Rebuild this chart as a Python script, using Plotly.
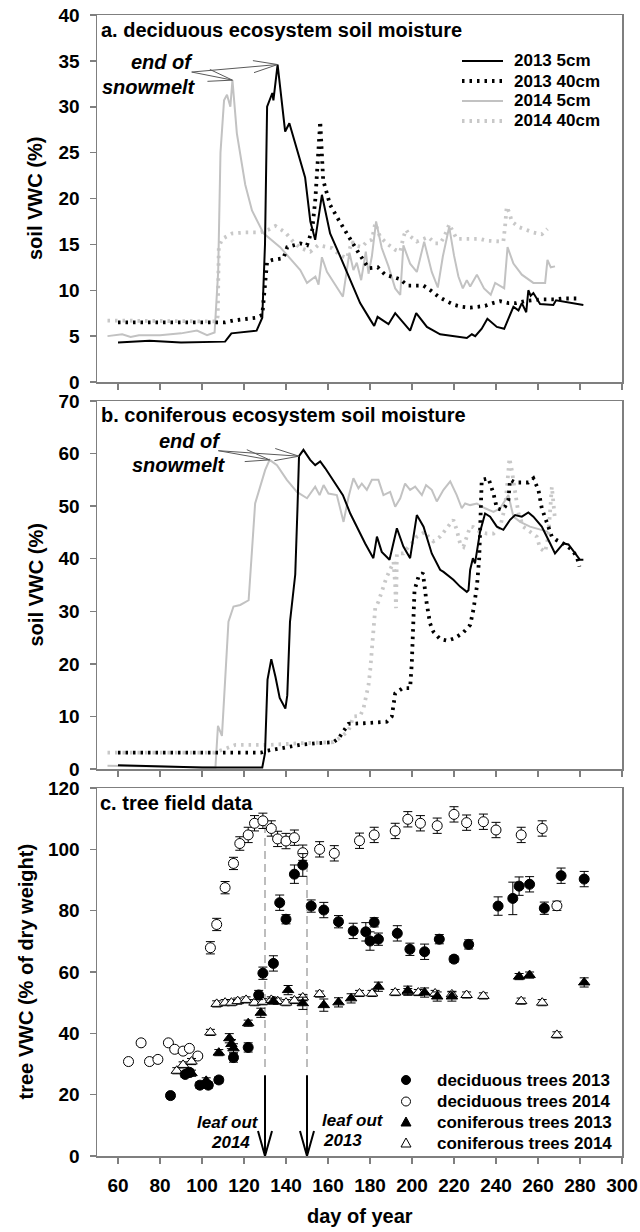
import numpy as np
import plotly.graph_objects as go

# ---------------- data ----------------
# panel a: deciduous ecosystem soil moisture (VWC %)
a13_5_day = [60, 75, 90, 104, 111, 113, 114, 126, 128.7, 130, 131, 133.5, 134, 136, 139.6, 141.6, 146.8, 149.1,
             151.6, 153.9, 157.1, 161.0, 165.8, 170.6, 175.3, 180.1, 182.0, 183.6, 188.8, 192.0, 199.1, 202.0,
             207.1, 213.4, 226.1, 228.5, 230.1, 233.2, 235.9, 240.4, 243.9, 248.3, 250.7, 252.3, 254.4, 255.4,
             256.5, 257.8, 261.0, 267.3, 268.6, 281.6]
a13_5_val = [4.3, 4.5, 4.3, 4.4, 4.4, 5.0, 5.3, 5.6, 7.0, 15.0, 30.0, 31.5, 30.7, 34.6, 27.3, 28.2, 24.2, 22.3,
             17.5, 15.5, 20.4, 16.2, 13.7, 11.1, 8.6, 6.8, 6.1, 7.1, 6.3, 7.5, 5.6, 7.5,
             6.0, 5.2, 4.8, 5.2, 5.0, 5.8, 6.9, 6.0, 5.8, 8.2, 7.8, 8.6, 7.6, 10.0,
             9.4, 9.7, 8.5, 8.4, 8.9, 8.4]

a13_40_day = [60, 111, 115, 125.5, 128.7, 131, 133.5, 138.8, 140.6, 146.8, 150, 152.5, 154, 156.3, 157.7, 161,
              165.5, 170, 174.5, 179.3, 183.7, 187.2, 194.4, 197.8, 205.5, 209.4, 212.6, 216.6, 220.2, 223.7,
              227.7, 231.3, 234.8, 238.5, 242, 245.9, 249.6, 253.4, 257, 261, 268.1, 272, 279.2]
a13_40_val = [6.5, 6.5, 6.7, 7.0, 7.3, 13.1, 13.3, 13.5, 14.7, 15.1, 14.9, 16.6, 20.0, 28.4, 22.0, 19.3,
              17.5, 15.7, 14.1, 12.4, 12.5, 11.7, 11.2, 10.5, 10.5, 9.9, 9.3, 8.8, 8.4, 8.2,
              8.1, 8.2, 8.3, 8.6, 8.8, 8.6, 8.6, 8.8, 8.9, 9.0, 9.0, 9.1, 9.1]

a14_5_day = [55, 62, 66, 70, 80, 90, 97.6, 102.4, 106, 107.7, 108.8, 110.5, 111.9, 113.5, 114.5, 116.6, 120.6,
             123.8, 129.3, 137.2, 146.8, 150, 154, 155.5, 157.1, 159.5, 162.6, 167.1, 170.2, 172.1, 173.7,
             175.8, 178, 179.3, 180.9, 182.9, 185.6, 188.8, 192, 194.4, 195.9, 199.1, 202.3, 205.8, 209.4,
             212.3, 214.7, 217.7, 220, 222.1, 224.2, 226.1, 227.7, 230.9, 234.3, 237.5, 239.6, 242.8, 243.9,
             245.5, 248.3, 252.3, 257.8, 263.4, 264.5, 266.1, 268.1]
a14_5_val = [5.0, 5.2, 4.9, 5.1, 5.1, 5.3, 5.6, 5.1, 5.4, 12.0, 25.0, 30.7, 31.3, 30.0, 32.9, 27.1, 21.5,
             18.7, 16.2, 14.7, 12.2, 10.8, 11.5, 10.6, 13.6, 12.0, 10.9, 9.3, 14.1, 12.2, 13.0,
             11.1, 14.2, 11.8, 13.7, 17.5, 14.6, 12.6, 10.2, 9.5, 14.9, 12.9, 12.0, 15.3, 12.0,
             10.3, 13.7, 16.9, 13.8, 11.5, 10.2, 11.1, 10.4, 11.7, 10.2, 9.5, 10.8, 10.4, 10.2,
             14.7, 12.9, 11.7, 10.8, 10.8, 13.3, 12.5, 12.6]

a14_40_day = [55, 107, 107.5, 108, 109.6, 114.5, 120.6, 127.8, 131.6, 135, 139.7, 143.4, 146.8, 151.6, 155.3,
              161.9, 165.8, 169, 170.2, 171.4, 172.9, 176.1, 178.5, 180.9, 182.5, 183.3, 184.8, 188, 192,
              194.4, 195.9, 197.2, 199.1, 202.3, 207.8, 211, 213.4, 215.3, 217.8, 219, 221.3, 224.5, 232.4,
              235.6, 239.6, 243.5, 244.3, 245.1, 246.4, 247.5, 250.7, 254.7, 257.8, 261.8, 264.5]
a14_40_val = [6.7, 6.6, 7.2, 14.7, 15.6, 16.2, 16.3, 16.3, 16.6, 17.0, 16.3, 15.3, 14.6, 14.2, 14.9,
              14.6, 13.8, 13.5, 14.4, 15.3, 14.9, 14.7, 15.3, 15.5, 17.3, 16.7, 15.8, 15.1, 14.4,
              14.2, 15.8, 16.6, 15.9, 15.3, 15.8, 15.1, 15.1, 15.8, 17.2, 16.6, 15.6, 15.6, 15.6,
              15.4, 15.3, 15.3, 16.9, 19.1, 18.4, 17.5, 16.9, 16.5, 16.3, 16.1, 16.7]

# panel b: coniferous ecosystem soil moisture (VWC %)
b13_5_day = [60, 80, 100, 128.7, 130, 131.2, 133, 135, 137, 139.7, 140.6, 141.9, 143.6, 144.4, 145.5, 146.2,
             148.3, 151.5, 153.9, 156.3, 158.7, 161.9, 165, 167.1, 170.6, 173.7, 177.7, 181.6, 183.3, 185.6,
             189.3, 192.8, 195.9, 199.1, 202.3, 205.5, 209.4, 213.4, 215, 219.7, 222.9, 226.1, 226.9, 227.7,
             229, 230, 232.4, 234.8, 237.2, 240.4, 243.5, 246.7, 249.1, 252.3, 255.4, 257.8, 261.8, 265.8,
             268.1, 272.1, 274.5, 277.7, 280, 281.6]
b13_5_val = [0.7, 0.5, 0.3, 0.3, 3.0, 17.0, 20.9, 17.5, 13.5, 11.5, 14.0, 28.0, 34.7, 37.0, 50.0, 59.5,
             60.7, 58.8, 57.8, 58.5, 57.2, 55.3, 53.4, 52.1, 48.6, 46.1, 42.9, 40.1, 44.2, 41.3,
             39.8, 45.8, 42.3, 40.1, 48.3, 46.1, 41.0, 37.9, 37.5, 36.0, 34.7, 33.7, 34.0, 37.9,
             40.1, 39.1, 45.1, 48.6, 48.0, 46.1, 45.5, 47.4, 48.3, 48.0, 48.8, 48.0, 46.1, 42.9,
             41.0, 42.9, 42.7, 41.0, 39.8, 39.8]

b13_40_day = [60, 128, 130, 137.3, 146.8, 154.7, 162.6, 165, 167.4, 169.8, 176.9, 184, 188, 190.4, 191.2, 192,
              195.6, 199.1, 199.9, 200.7, 201.2, 203.1, 205.2, 207, 208.6, 210.2, 213.4, 216.9, 220.5, 224.5,
              227.7, 229.2, 230.9, 232, 233.2, 236.4, 238.8, 240.4, 242.8, 244.3, 245.9, 246.7, 249.1, 252.3,
              255.4, 257.8, 260.2, 261.8, 263.4, 265, 266.6, 268.6, 272.9, 276.1, 278.5, 279.7]
b13_40_val = [3.1, 3.1, 3.4, 3.9, 4.6, 4.9, 5.1, 5.8, 7.2, 8.6, 8.7, 9.0, 9.0, 10.0, 12.8, 14.4,
              15.4, 15.4, 20.1, 27.1, 34.0, 36.6, 37.3, 31.5, 27.7, 26.1, 24.7, 24.4, 24.9, 26.0,
              27.4, 30.2, 34.7, 40.0, 55.0, 55.3, 52.4, 49.6, 49.3, 49.9, 51.2, 55.0, 54.5, 54.5,
              54.5, 55.3, 53.1, 49.6, 47.7, 46.1, 44.2, 43.6, 42.7, 41.7, 40.4, 38.5]

b14_5_day = [55, 80, 100, 106.4, 107.6, 109.5, 112.6, 115, 118.2, 122.2, 125.3, 130.1, 132.2, 135.7, 140.4,
             145.2, 150, 153.9, 156, 157.9, 160.2, 164.2, 167.4, 169.8, 172.1, 174.5, 176.1, 178.5, 180.9,
             184, 186.4, 189.6, 192, 194.4, 196.7, 199.1, 201.5, 204.7, 206.7, 209.4, 211.8, 215, 218.2,
             221.3, 223.7, 225.3, 227.7, 230.9, 234.8, 238.8, 242, 245.9, 248.3, 251.5, 256.2, 261, 264.9]
b14_5_val = [0.6, 0.4, 0.3, 0.3, 8.2, 6.3, 28.0, 30.9, 31.2, 32.1, 50.5, 56.9, 58.8, 57.8, 55.0,
             52.7, 51.5, 53.7, 52.1, 54.0, 52.4, 52.1, 47.0, 51.8, 55.3, 53.4, 54.3, 53.1, 55.0,
             55.0, 52.1, 52.7, 49.9, 51.5, 54.3, 53.1, 53.7, 52.1, 54.0, 53.1, 50.9, 53.1, 54.7,
             52.1, 49.6, 50.5, 50.2, 50.5, 49.6, 48.9, 49.6, 52.1, 48.0, 47.0, 46.1, 45.5, 45.1]

b14_40_day = [55, 106, 116, 132.5, 146.8, 162.6, 166.6, 169.8, 172.1, 175.3, 176.9, 178.5, 179.3, 180.1, 180.6,
              181.4, 182, 182.5, 184, 185.3, 186.4, 188, 188.8, 191.2, 192, 192.4, 192.8, 195.9, 198.3, 199.9,
              202.3, 206.3, 207.8, 210.2, 213.4, 218.2, 219.7, 221.3, 222.9, 224.5, 226.1, 227.7, 229.2,
              232.4, 235.6, 238.8, 242, 244.3, 245.4, 246.4, 247.5, 249.1, 250.7, 253, 256.2, 259.4, 261,
              263.4, 264.9, 265.8, 266.6, 268.1]
b14_40_val = [3.1, 3.1, 4.6, 4.6, 4.9, 5.1, 6.2, 7.3, 10.0, 10.1, 11.5, 14.4, 16.0, 18.8, 21.7,
              24.5, 27.4, 30.6, 31.8, 33.4, 35.0, 36.6, 37.2, 39.4, 35.0, 30.6, 41.0, 41.0, 42.3, 42.9,
              44.2, 45.1, 44.2, 43.3, 44.2, 46.7, 47.4, 45.5, 42.9, 42.3, 44.2, 46.1, 46.0,
              45.1, 44.8, 44.8, 46.1, 49.9, 54.3, 59.1, 56.9, 52.4, 48.6, 46.1, 45.1, 44.2, 42.0,
              41.3, 44.2, 49.9, 53.7, 47.4]

# end of snowmelt (day of year) [2013, 2014]
snow_end_a = [136, 114.5]
snow_end_b = [146.2, 132.2]

# panel c: tree field data (VWC % of dry weight), mean and error
dec13_day = [85, 92, 94, 99, 103, 108, 115, 122, 127, 129, 134, 137, 140, 144, 148, 152, 158, 165, 172, 178,
             180, 182, 184, 193, 199, 206, 213, 220, 227, 241, 248, 251, 256, 263, 271, 282]
dec13_val = [19.7, 26.6, 27.3, 23.1, 23.1, 24.8, 32.1, 35.4, 52.5, 59.6, 62.8, 82.6, 77.2, 91.9, 94.9, 81.5,
             80.2, 76.4, 73.4, 73.1, 70.1, 76.2, 70.7, 72.6, 67.4, 66.6, 70.7, 64.2, 69.0, 81.5, 84.0, 88.0,
             88.6, 80.8, 91.4, 90.3]
dec13_err = [1.0, 1.0, 1.0, 1.0, 1.0, 1.0, 1.5, 1.5, 1.5, 2.0, 2.5, 2.5, 1.5, 3.0, 3.7, 2.0, 2.5, 2.0, 2.5,
             3.0, 3.0, 1.5, 2.0, 2.5, 2.0, 2.5, 1.5, 1.0, 1.5, 3.0, 5.3, 3.0, 2.5, 2.0, 2.5, 2.5]

dec14_day = [65, 71, 75, 79, 84, 87, 91, 94, 98, 104, 107, 111, 115, 118, 122, 125, 129, 133, 136, 140, 144,
             148, 156, 163, 175, 182, 192, 198, 204, 212, 220, 226, 234, 240, 252, 262, 269]
dec14_val = [30.8, 36.9, 30.8, 31.5, 36.9, 34.8, 34.2, 35.1, 32.6, 67.9, 75.5, 87.5, 95.4, 101.9, 104.7,
             108.5, 109.3, 106.8, 103.4, 102.7, 103.8, 98.9, 100.0, 98.7, 102.8, 104.7, 106.0, 109.8, 108.5,
             107.7, 111.4, 108.7, 109.0, 106.3, 104.7, 106.8, 81.6]
dec14_err = [0.8, 0.8, 0.8, 0.8, 0.8, 0.8, 0.8, 0.8, 0.8, 2.0, 2.0, 2.0, 2.0, 2.2, 2.5, 2.5, 2.5, 2.5, 2.5,
             2.5, 2.5, 2.5, 2.5, 2.5, 2.5, 2.5, 2.5, 2.5, 2.5, 2.5, 2.5, 2.5, 2.5, 2.5, 2.5, 2.5, 1.5]

con13_day = [93, 95, 102, 108, 113, 114, 115, 122, 128, 134, 141, 148, 158, 165, 171, 184, 198, 206, 212, 219,
             251, 256, 282]
con13_val = [26.7, 27.0, 24.5, 33.7, 38.4, 36.5, 35.1, 43.3, 46.7, 50.5, 54.1, 49.8, 49.2, 50.1, 51.4, 55.2,
             53.9, 53.3, 52.0, 52.0, 58.5, 59.0, 56.6]
con13_err = [1.0, 1.0, 1.0, 1.0, 1.5, 1.5, 1.5, 1.0, 1.5, 1.0, 1.5, 2.0, 2.0, 1.5, 1.5, 1.5, 1.5, 1.5, 1.5,
             1.5, 1.0, 1.0, 1.5]

con14_day = [88, 91, 95, 104, 107, 111, 114, 117, 121, 125, 129, 133, 136, 140, 144, 148, 156, 175, 181, 192,
             198, 203, 211, 219, 226, 234, 252, 262, 269]
con14_val = [27.8, 29.7, 30.8, 40.3, 49.6, 50.0, 50.0, 50.5, 50.9, 50.0, 50.3, 50.9, 50.5, 50.0, 50.7, 51.7,
             52.8, 53.0, 53.0, 53.3, 53.6, 53.3, 53.0, 52.7, 52.5, 52.2, 50.5, 50.0, 39.5]
con14_err = [1.0] * len(con14_day)

# leaf out (day of year) [2014, 2013]
leafout_day = [130, 150]
leafout_year = ['2014', '2013']
leafout_line_top = [108.5, 96.5]

x_ticks = list(range(60, 301, 20))

# ---------------- layout helpers ----------------
W, H = 640, 1232
ML, MR, MT, MB = 97, 18, 15, 76
PW = W - ML - MR
PH = H - MT - MB
XR = [50, 300]
PXD = PW / (XR[1] - XR[0])


def pxx(px):
    return (px - ML) / PW


def pxy(py):
    return (H - MB - py) / PH


PANEL = {'a': (15, 382, 40), 'b': (401, 769, 70), 'c': (788, 1156, 120)}


def data_to_px(panel, d, v):
    top, bot, ymax = PANEL[panel]
    return ML + (d - XR[0]) * PXD, bot - v * (bot - top) / ymax


BLACK = '#000000'
GRAY = '#c2c2c2'
AXC = '#7f7f7f'
FONT = 'Liberation Sans'
DOT = '2.5px,5px'

fig = go.Figure()


def add_line(x, y, color, dash, width, xa, ya):
    fig.add_trace(go.Scatter(x=x, y=y, mode='lines', showlegend=False, hoverinfo='skip',
                             line=dict(color=color, dash=dash, width=width), xaxis=xa, yaxis=ya))


series_a = [
    ('2013 5cm', a13_5_day, a13_5_val, BLACK, 'solid', 2.0),
    ('2013 40cm', a13_40_day, a13_40_val, BLACK, DOT, 3.8),
    ('2014 5cm', a14_5_day, a14_5_val, GRAY, 'solid', 2.0),
    ('2014 40cm', a14_40_day, a14_40_val, '#c8c8c8', DOT, 3.8),
]
series_b = [
    ('2013 5cm', b13_5_day, b13_5_val, BLACK, 'solid', 2.0),
    ('2013 40cm', b13_40_day, b13_40_val, BLACK, DOT, 3.8),
    ('2014 5cm', b14_5_day, b14_5_val, GRAY, 'solid', 2.0),
    ('2014 40cm', b14_40_day, b14_40_val, '#c8c8c8', DOT, 3.8),
]
for s in [series_a[3], series_a[2], series_a[1], series_a[0]]:
    add_line(s[1], s[2], s[3], s[4], s[5], 'x', 'y')
for s in [series_b[3], series_b[2], series_b[1], series_b[0]]:
    add_line(s[1], s[2], s[3], s[4], s[5], 'x2', 'y2')


def add_pts(x, y, e, symbol, fill, name):
    fig.add_trace(go.Scatter(x=x, y=y, mode='markers', name=name, showlegend=False, xaxis='x3', yaxis='y3',
                             marker=dict(symbol=symbol, size=10, color=fill, line=dict(color=BLACK, width=1)),
                             error_y=dict(type='data', array=e, color=BLACK, thickness=1, width=4.5)))


series_c = [
    ('deciduous trees 2013', 'circle', BLACK),
    ('deciduous trees 2014', 'circle', 'white'),
    ('coniferous trees 2013', 'triangle-up', BLACK),
    ('coniferous trees 2014', 'triangle-up', 'white'),
]

shapes = []
annotations = []

# dashed leaf-out lines (drawn under markers)
for d, top in zip(leafout_day, leafout_line_top):
    shapes.append(dict(type='line', xref='x3', yref='y3', x0=d, x1=d, y0=29, y1=top, layer='below',
                       line=dict(color='#bdbdbd', width=2, dash='8px,5px')))

add_pts(dec14_day, dec14_val, dec14_err, 'circle', 'white', series_c[1][0])
add_pts(con14_day, con14_val, con14_err, 'triangle-up', 'white', series_c[3][0])
add_pts(con13_day, con13_val, con13_err, 'triangle-up', BLACK, series_c[2][0])
add_pts(dec13_day, dec13_val, dec13_err, 'circle', BLACK, series_c[0][0])

# axes
tickfont = dict(family=FONT, size=19, color='black', weight='bold')
common_x = dict(range=XR, tickvals=x_ticks, ticks='outside', ticklen=6, tickwidth=1.5, tickcolor=AXC,
                showline=True, linecolor=AXC, linewidth=1.5, mirror=True, showgrid=False, zeroline=False,
                tickfont=tickfont, ticklabelstandoff=6, automargin=False)
common_y = dict(ticks='outside', ticklen=6, tickwidth=1.5, tickcolor=AXC, showline=True, linecolor=AXC,
                linewidth=1.5, mirror=True, showgrid=False, zeroline=False, tickfont=tickfont,
                ticklabelstandoff=6, automargin=False)

fig.update_layout(
    template='none',
    width=W, height=H, margin=dict(l=ML, r=MR, t=MT, b=MB, autoexpand=False),
    paper_bgcolor='white', plot_bgcolor='white',
    font=dict(family=FONT, color='black', weight='bold'), showlegend=False,
    xaxis=dict(common_x, anchor='y', domain=[0, 1], showticklabels=False),
    yaxis=dict(common_y, anchor='x', domain=[pxy(382), pxy(15)], range=[0, 40], dtick=5),
    xaxis2=dict(common_x, anchor='y2', domain=[0, 1], showticklabels=False),
    yaxis2=dict(common_y, anchor='x2', domain=[pxy(769), pxy(401)], range=[0, 70], dtick=10),
    xaxis3=dict(common_x, anchor='y3', domain=[0, 1]),
    yaxis3=dict(common_y, anchor='x3', domain=[pxy(1156), pxy(788)], range=[0, 120], dtick=20),
)


def ptext(text, px, py, size, xanchor='left', italic=False, angle=0):
    annotations.append(dict(text=text, xref='paper', yref='paper', x=pxx(px), y=pxy(py), xanchor=xanchor,
                            yanchor='middle', showarrow=False, textangle=angle, borderpad=0,
                            font=dict(family=FONT, size=size, color='black', weight='bold',
                                      style='italic' if italic else 'normal')))


# panel titles and axis titles
ptext('a. deciduous ecosystem soil moisture', 100, 29.5, 20)
ptext('b. coniferous ecosystem soil moisture', 100, 415, 20)
ptext('c. tree field data', 99, 803, 20)
ptext('soil VWC (%)', 35.5, (15 + 382) / 2, 20, xanchor='center', angle=-90)
ptext('soil VWC (%)', 35.5, (401 + 769) / 2, 20, xanchor='center', angle=-90)
ptext('tree VWC (% of dry weight)', 25.5, (788 + 1156) / 2, 20, xanchor='center', angle=-90)
ptext('day of year', 360, 1216, 20, xanchor='center')

# "end of snowmelt" notes
ptext('end of', 193.5, 62, 20, xanchor='right', italic=True)
ptext('snowmelt', 197, 87, 20, xanchor='right', italic=True)
ptext('end of', 222, 441, 20, xanchor='right', italic=True)
ptext('snowmelt', 227, 465, 20, xanchor='right', italic=True)


def open_arrow(panel, xref, yref, day, val, tail_px, head_len=25, head_ang=14, color='#5a5a5a', width=1):
    tx, ty = data_to_px(panel, day, val)
    dx, dy = tail_px[0] - tx, -(tail_px[1] - ty)
    ang = np.arctan2(dy, dx)
    pts = []
    for s in (-1, 1):
        a = ang + s * np.radians(head_ang)
        pts.append((head_len * np.cos(a), head_len * np.sin(a)))
    path = (f'M0,0 L{dx:.1f},{dy:.1f} M{pts[0][0]:.1f},{pts[0][1]:.1f} L0,0 '
            f'L{pts[1][0]:.1f},{pts[1][1]:.1f}')
    shapes.append(dict(type='path', xref=xref, yref=yref, xsizemode='pixel', ysizemode='pixel', xanchor=day,
                       yanchor=val, path=path, line=dict(color=color, width=width)))


for d, sd, sv in zip(snow_end_a, [a13_5_day, a14_5_day], [a13_5_val, a14_5_val]):
    open_arrow('a', 'x', 'y', d, float(np.interp(d, sd, sv)), (191.7, 72))
for d, sd, sv in zip(snow_end_b, [b13_5_day, b14_5_day], [b13_5_val, b14_5_val]):
    open_arrow('b', 'x2', 'y2', d, float(np.interp(d, sd, sv)), (218.3, 450.7))

# leaf-out arrows
for d in leafout_day:
    _, y0 = data_to_px('c', d, 0)
    _, y1 = data_to_px('c', d, 26.3)
    L = y0 - y1
    shapes.append(dict(type='path', xref='x3', yref='y3', xsizemode='pixel', ysizemode='pixel', xanchor=d,
                       yanchor=0, path=f'M0,0 L0,{L:.1f} M-7,25 L0,0 L7,25',
                       line=dict(color='black', width=2)))
ptext('leaf out', 228, 1122.5, 17, xanchor='center', italic=True)
ptext(leafout_year[0], 230, 1142, 17, xanchor='center', italic=True)
ptext('leaf out', 321, 1120, 17, xanchor='left', italic=True)
ptext(leafout_year[1], 322, 1140.5, 17, xanchor='left', italic=True)

# legend, panel a
for i, s in enumerate(series_a):
    yy = 61 + 20 * i
    shapes.append(dict(type='line', xref='paper', yref='paper', x0=pxx(462), x1=pxx(503), y0=pxy(yy), y1=pxy(yy),
                       line=dict(color=s[3], width=s[5], dash=s[4])))
    ptext(s[0], 512.5, yy, 17)

# legend, panel c
for i, s in enumerate(series_c):
    yy = [1080, 1101.5, 1122, 1143][i]
    if s[1] == 'circle':
        shapes.append(dict(type='circle', xref='paper', yref='paper', xsizemode='pixel', ysizemode='pixel',
                           xanchor=pxx(406), yanchor=pxy(yy), x0=-4.5, x1=4.5, y0=-4.5, y1=4.5,
                           fillcolor=s[2], line=dict(color='black', width=1)))
    else:
        shapes.append(dict(type='path', xref='paper', yref='paper', xsizemode='pixel', ysizemode='pixel',
                           xanchor=pxx(406), yanchor=pxy(yy), path='M-5,-4 L5,-4 L0,5 Z',
                           fillcolor=s[2], line=dict(color='black', width=1)))
    ptext(s[0], 436, yy, 17)

fig.update_layout(shapes=shapes, annotations=annotations)
fig.write_html('out.html', config={'displayModeBar': False, 'staticPlot': True},
               post_script="document.body.style.margin='0';document.body.style.overflow='hidden';")
